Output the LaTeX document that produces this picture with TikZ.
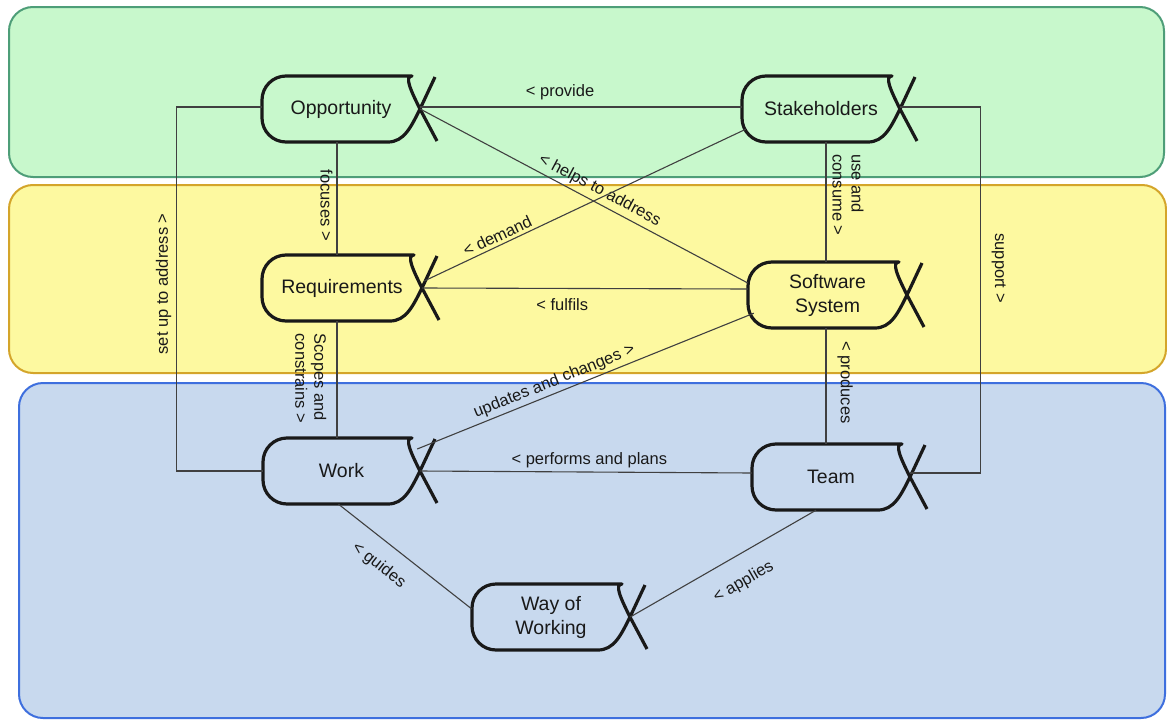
\documentclass[tikz,border=0pt]{standalone}
\usepackage{fontspec}
\setmainfont{Liberation Sans}
\usetikzlibrary{calc}
\definecolor{greenF}{HTML}{C8F8CC}
\definecolor{greenB}{HTML}{4E9E78}
\definecolor{yellowF}{HTML}{FDF9A0}
\definecolor{yellowB}{HTML}{D4A52A}
\definecolor{blueF}{HTML}{C8D9EE}
\definecolor{blueB}{HTML}{3E6FDE}
\tikzset{
  band/.style={rounded corners=24pt, line width=2pt},
  alphabox/.style={draw=none, inner sep=0pt, align=center, font=\fontsize{19.5}{24}\selectfont, text=black!90},
  alphaline/.style={line width=3.2pt, draw=black!90, line join=round},
  conn/.style={draw=black!75, line width=1.1pt},
  lbl/.style={font=\fontsize{16.5}{19}\selectfont, text=black!90, inner sep=3pt, align=left},
}
% L T B Xc my
\newcommand\alphashape[5]{%
  \draw[alphaline] (#4+15,#5-32) -- (#4,#5)
    .. controls (#4-9,#5+18) and (#4-16,#3) .. (#4-32,#3)
    [rounded corners=24pt] -- (#1,#3) -- (#1,#2) -- (#4-32,#2) [sharp corners]
    .. controls (#4-16,#2) and (#4-9,#5-18) .. (#4,#5) -- (#4+17,#5+32);
}
\begin{document}
\begin{tikzpicture}[x=1pt,y=-1pt]
\useasboundingbox (0,0) rectangle (1167,720);
\fill[white] (0,0) rectangle (1167,720);
% bands
\draw[band, draw=greenB, fill=greenF] (9,7) rectangle (1164,177);
\draw[band, draw=yellowB, fill=yellowF] (9,185) rectangle (1166,373);
\draw[band, draw=blueB, fill=blueF] (19,383) rectangle (1165,718);

% alpha nodes
\node[alphabox, minimum width=158pt, minimum height=66pt] (opp) at (341,109) {Opportunity};
\node[alphabox, minimum width=158pt, minimum height=66pt] (stake) at (821,109) {Stakeholders};
\node[alphabox, minimum width=160pt, minimum height=66pt] (req) at (342,288) {Requirements};
\node[alphabox, minimum width=159pt, minimum height=66pt] (soft) at (827.5,295) {Software\\System};
\node[alphabox, minimum width=157pt, minimum height=66pt] (work) at (341.5,471) {Work};
\node[alphabox, minimum width=158pt, minimum height=66pt] (team) at (831,477) {Team};
\node[alphabox, minimum width=158pt, minimum height=66pt] (wow) at (551,617) {Way of\\Working};

\alphashape{262}{76}{142}{420}{109}
\alphashape{742}{76}{142}{900}{109}
\alphashape{262}{255}{321}{422}{288}
\alphashape{748}{262}{328}{907}{295}
\alphashape{263}{438}{504}{420}{471}
\alphashape{752}{444}{510}{910}{477}
\alphashape{472}{584}{650}{630}{617}

% connectors
\draw[conn] ($(opp.east)+(0,-2)$) -- node[lbl, pos=0.435, above=4pt] {< provide} ($(stake.west)+(0,-2)$);
\draw[conn] ($(opp.south)+(-4,0)$) -- node[lbl, pos=0.56, rotate=-90, anchor=north, inner ysep=4pt] {focuses >} ($(req.north)+(-5,0)$);
\draw[conn] (opp.east) -- node[lbl, pos=0.53, sloped, above=1pt] {< helps to address} ($(soft.west)+(0,-12)$);
\draw[conn] ($(req.east)+(2,-7)$) -- node[lbl, pos=0.24, sloped, above] {< demand} ($(stake.south west)+(4,-13)$);
\draw[conn] ($(stake.south)+(5,0)$) -- node[lbl, pos=0.44, rotate=-90, anchor=south, inner ysep=6pt] {use and\\consume >} ($(soft.north)+(-1.5,0)$);
\draw[conn] (req.east) -- node[lbl, pos=0.43, below=7pt] {< fulfils} ($(soft.west)+(0,-6)$);
\draw[conn] ($(req.south)+(-5,0)$) -- node[lbl, pos=0.49, rotate=-90, anchor=north, inner ysep=10pt] {Scopes and\\constrains >} ($(work.north)+(-4.5,0)$);
\draw[conn] ($(work.east)+(-3,-22)$) -- node[lbl, pos=0.42, sloped, above] {updates and changes >} ($(soft.south west)+(6,-15)$);
\draw[conn] ($(soft.south)+(-1.5,0)$) -- node[lbl, pos=0.47, rotate=-90, anchor=south, inner ysep=11pt] {< produces} ($(team.north)+(-5,0)$);
\draw[conn] (work.east) -- node[lbl, pos=0.51, above=1pt] {< performs and plans} ($(team.west)+(0,-4)$);
\draw[conn] ($(work.south)+(-3,0)$) -- node[lbl, pos=0.41, sloped, below=12pt] {< guides} ($(wow.west)+(0,-8)$);
\draw[conn] (wow.east) -- node[lbl, pos=0.54, sloped, below=15pt] {< applies} ($(team.south)+(-15,0)$);
\draw[conn] ($(opp.west)+(0,-2)$) -- ++(-85,0) |- node[lbl, pos=0.243, rotate=90, anchor=south, inner ysep=5pt] {set up to address >} (work.west);
\draw[conn] ($(stake.east)+(0,-2)$) -- ++(80,0) |- node[lbl, pos=0.22, rotate=-90, anchor=south, inner ysep=11pt] {support >} ($(team.east)+(0,-4)$);
\end{tikzpicture}
\end{document}
